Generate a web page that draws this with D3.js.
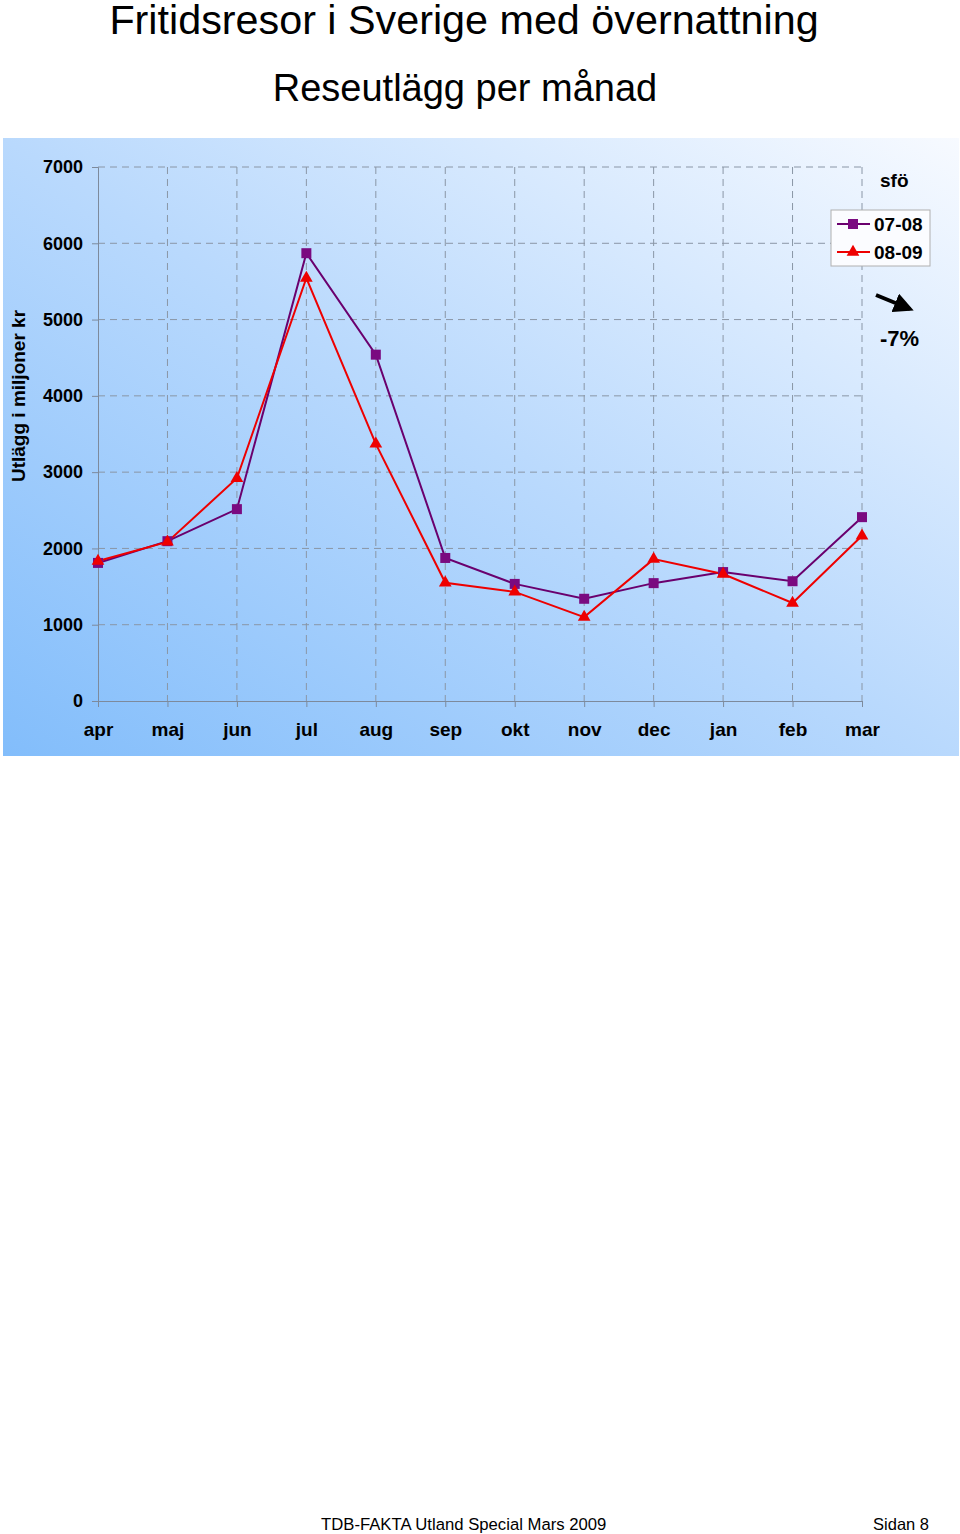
<!DOCTYPE html>
<html><head><meta charset="utf-8">
<script src="https://cdn.jsdelivr.net/npm/d3@7/dist/d3.min.js"></script>
<style>body{margin:0;background:#fff}svg{display:block;font-family:"Liberation Sans",Arial,sans-serif}</style>
</head><body>
<script>
const months = ["apr","maj","jun","jul","aug","sep","okt","nov","dec","jan","feb","mar"];
const yTicks = [0,1000,2000,3000,4000,5000,6000,7000];
const s0708 = [1810,2095,2515,5870,4540,1875,1535,1340,1545,1690,1570,2410];
const s0809 = [1835,2085,2920,5545,3370,1550,1430,1100,1860,1665,1285,2165];
const seriesNames = ["07-08","08-09"];

const W = 960, H = 1534;
const svg = d3.select("body").append("svg").attr("width", W).attr("height", H);
const defs = svg.append("defs");
const grad = defs.append("linearGradient").attr("id","bg").attr("x1","0").attr("y1","1").attr("x2","1").attr("y2","0");
grad.append("stop").attr("offset","0").attr("stop-color","#82bdfb");
grad.append("stop").attr("offset","0.5").attr("stop-color","#b9d9fd");
grad.append("stop").attr("offset","1").attr("stop-color","#f7faff");

svg.append("rect").attr("x",3).attr("y",138).attr("width",956).attr("height",618).attr("fill","url(#bg)");

svg.append("text").attr("x",464).attr("y",34).attr("text-anchor","middle").attr("font-size",41.3).attr("fill","#000").text("Fritidsresor i Sverige med övernattning");
svg.append("text").attr("x",465).attr("y",101).attr("text-anchor","middle").attr("font-size",38).attr("fill","#000").text("Reseutlägg per månad");

const x = d3.scalePoint().domain(months).range([98,862]);
const y = d3.scaleLinear().domain([0,7000]).range([701,167]);

const g = svg.append("g");
g.selectAll("line.hg").data(yTicks.slice(1)).join("line")
  .attr("x1",98).attr("x2",862).attr("y1",d=>y(d)).attr("y2",d=>y(d))
  .attr("stroke","#8a96a6").attr("stroke-width",1).attr("stroke-dasharray","7,5");
g.selectAll("line.vg").data(months.slice(1)).join("line")
  .attr("x1",d=>x(d)).attr("x2",d=>x(d)).attr("y1",167).attr("y2",707)
  .attr("stroke","#8a96a6").attr("stroke-width",1).attr("stroke-dasharray","7,5");

const yAxis = d3.axisLeft(y).tickValues(yTicks).tickSize(6).tickPadding(9).tickFormat(d3.format("d"));
const ya = svg.append("g").attr("transform","translate(98,0)").call(yAxis);
ya.select(".domain").attr("stroke","#7d8a9c");
ya.selectAll(".tick line").attr("stroke","#7d8a9c");
ya.selectAll("text").attr("font-size",18).attr("font-weight","bold").attr("fill","#000");

const xAxis = d3.axisBottom(x).tickSize(6).tickPadding(16);
const xa = svg.append("g").attr("transform","translate(0,701)").call(xAxis);
xa.select(".domain").attr("stroke","#7d8a9c");
xa.selectAll(".tick line").attr("stroke","#7d8a9c");
xa.selectAll("text").attr("font-size",19).attr("font-weight","bold").attr("fill","#000");

svg.append("text").attr("transform","translate(25,396) rotate(-90)").attr("text-anchor","middle")
  .attr("font-size",19).attr("font-weight","bold").text("Utlägg i miljoner kr");

const line = d3.line().x((d,i)=>x(months[i])).y(d=>y(d));
const cols = ["#6a006e","#ee0000"];
[s0708,s0809].forEach((s,k)=>{
  svg.append("path").datum(s).attr("d",line).attr("fill","none").attr("stroke",cols[k]).attr("stroke-width",2);
});
svg.selectAll("rect.sq").data(s0708).join("rect")
  .attr("x",(d,i)=>x(months[i])-5).attr("y",d=>y(d)-5).attr("width",10).attr("height",10).attr("fill","#7a0a80");
const tri = d3.symbol().type(d3.symbolTriangle).size(70);
svg.selectAll("path.tr").data(s0809).join("path")
  .attr("d",tri).attr("transform",(d,i)=>`translate(${x(months[i])},${y(d)})`).attr("fill","#ee0000");

svg.append("text").attr("x",880).attr("y",187).attr("font-size",19).attr("font-weight","bold").text("sfö");
const lg = svg.append("g");
lg.append("rect").attr("x",831).attr("y",210).attr("width",99).attr("height",56).attr("fill","#fbfcff").attr("stroke","#b0b0b0");
seriesNames.forEach((n,k)=>{
  const yy = 224 + k*28;
  lg.append("line").attr("x1",837).attr("x2",870).attr("y1",yy).attr("y2",yy).attr("stroke",cols[k]).attr("stroke-width",2);
  if(k===0) lg.append("rect").attr("x",848).attr("y",yy-5).attr("width",10).attr("height",10).attr("fill","#7a0a80");
  else lg.append("path").attr("d",tri).attr("transform",`translate(853,${yy})`).attr("fill","#ee0000");
  lg.append("text").attr("x",874).attr("y",yy+7).attr("font-size",19).attr("font-weight","bold").text(n);
});
defs.append("marker").attr("id","ah").attr("viewBox","0 0 10 10").attr("refX",8).attr("refY",5)
  .attr("markerWidth",5).attr("markerHeight",5).attr("orient","auto")
  .append("path").attr("d","M0,0 L10,5 L0,10 z").attr("fill","#000");
svg.append("line").attr("x1",876).attr("y1",295).attr("x2",910).attr("y2",309).attr("stroke","#000").attr("stroke-width",4).attr("marker-end","url(#ah)");
svg.append("text").attr("x",880).attr("y",346).attr("font-size",22).attr("font-weight","bold").text("-7%");

svg.append("text").attr("x",321).attr("y",1530).attr("font-size",16.7).text("TDB-FAKTA Utland Special Mars 2009");
svg.append("text").attr("x",929).attr("y",1530).attr("text-anchor","end").attr("font-size",16.5).text("Sidan 8");
</script>
</body></html>
